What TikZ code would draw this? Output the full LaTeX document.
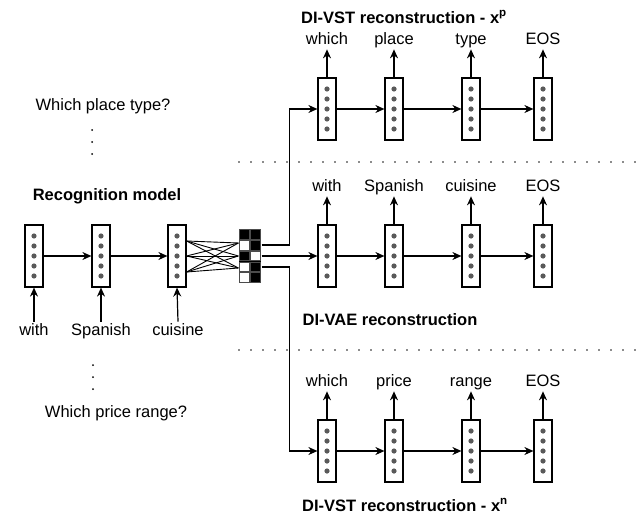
\documentclass[tikz,border=0pt]{standalone}
\usepackage{fontspec}
\setmainfont{Liberation Sans}
\usetikzlibrary{arrows.meta,positioning}

\begin{document}
\begin{tikzpicture}[x=1pt,y=-1pt,line width=1.2pt,
  cell/.style={draw,fill=white,minimum width=18pt,minimum height=62pt,inner sep=0pt,
    path picture={\foreach \d in {-2,...,2}
      \fill[black!65] ([yshift=\d*10pt]path picture bounding box.center) circle (2.6pt);}},
  word/.style={font=\fontsize{16.5}{18}\selectfont,text height=12pt,text depth=3.5pt,inner sep=1pt},
  heading/.style={font=\fontsize{16.5}{18}\selectfont\bfseries,inner sep=1pt},
  arr/.style={-{Stealth[length=9pt,width=8pt]}},
  bit/.style={draw=black!70,line width=0.8pt},
  sep/.style={black!45,line width=2pt,dash pattern=on 2pt off 10pt}]
  \useasboundingbox (0,0) rectangle (642,519);

  % recognition model
  \node[heading] (rtitle) at (107,196) {Recognition model};
  \node[cell] (r1) at (34,256) {};
  \node[cell] (r2) at (101,256) {};
  \node[cell] (r3) at (177,256) {};
  \node[word] (in1) at (34,331) {with};
  \node[word] (in2) at (101,331) {Spanish};
  \node[word] (in3) at (178,331) {cuisine};
  \draw[arr] (in1.north) -- (r1.south);
  \draw[arr] (in2.north) -- (r2.south);
  \draw[arr] (in3.north) -- (r3.south);
  \draw[arr] (r1) -- (r2);
  \draw[arr] (r2) -- (r3);

  % latent code
  \node[fill=black,minimum width=22pt,minimum height=54pt,inner sep=0pt] (z) at (250,256) {};
  \foreach \cx/\cy/\c in {244.5/234.4/black, 255.5/234.4/black,
                          244.5/245.2/white, 255.5/245.2/black,
                          244.5/256/black,   255.5/256/white,
                          244.5/266.8/white, 255.5/266.8/black,
                          244.5/277.6/white, 255.5/277.6/black}
    \filldraw[bit,fill=\c] (\cx-4.8,\cy-4.8) rectangle (\cx+4.8,\cy+4.8);
  \foreach \a in {15,0,-16}
    \foreach \b in {13,0,-12}
      \draw[line width=0.9pt] ([yshift=\a pt]r3.east) -- ([yshift=\b pt]z.west);

  % DI-VST reconstruction (x^p)
  \node[heading] (ptitle) at (404,17) {DI-VST reconstruction - x\textsuperscript{p}};
  \node[cell] (p1) at (327,109) {};
  \node[cell] (p2) at (394,109) {};
  \node[cell] (p3) at (471,109) {};
  \node[cell] (p4) at (543,109) {};
  \node[word] (pw1) at (327,40) {which};
  \node[word] (pw2) at (394,40) {place};
  \node[word] (pw3) at (471,40) {type};
  \node[word] (pw4) at (543,40) {EOS};

  % DI-VAE reconstruction
  \node[heading] (vtitle) at (390,320) {DI-VAE reconstruction};
  \node[cell] (v1) at (327,256) {};
  \node[cell] (v2) at (394,256) {};
  \node[cell] (v3) at (471,256) {};
  \node[cell] (v4) at (543,256) {};
  \node[word] (vw1) at (327,187) {with};
  \node[word] (vw2) at (394,187) {Spanish};
  \node[word] (vw3) at (471,187) {cuisine};
  \node[word] (vw4) at (543,187) {EOS};

  % DI-VST reconstruction (x^n)
  \node[heading] (ntitle) at (405,505) {DI-VST reconstruction - x\textsuperscript{n}};
  \node[cell] (n1) at (327,451) {};
  \node[cell] (n2) at (394,451) {};
  \node[cell] (n3) at (471,451) {};
  \node[cell] (n4) at (543,451) {};
  \node[word] (nw1) at (327,382) {which};
  \node[word] (nw2) at (394,382) {price};
  \node[word] (nw3) at (471,382) {range};
  \node[word] (nw4) at (543,382) {EOS};

  \foreach \r in {p,v,n} {
    \draw[arr] (\r1) -- (\r2);
    \draw[arr] (\r2) -- (\r3);
    \draw[arr] (\r3) -- (\r4);
    \foreach \i in {1,...,4}
      \draw[arr] (\r\i.north) -- (\r w\i.south);
  }

  % from the code to the decoders
  \draw[arr] ([yshift=11pt]z.east) -- ++(28,0) |- (p1.west);
  \draw[arr] (z.east) -- (v1.west);
  \draw[arr] ([yshift=-11pt]z.east) -- ++(28,0) |- (n1.west);

  % questions
  \node[word] (qp) at (103,106) {Which place type?};
  \node[word] (qn) at (116,413) {Which price range?};
  \foreach \y in {130,142,154} \fill (92,\y) circle (1pt);
  \foreach \y in {365,377,389} \fill (93,\y) circle (1pt);

  % separators
  \coordinate (s1a) at (238,162);
  \coordinate (s1b) at (642,162);
  \coordinate (s2a) at (238,350);
  \coordinate (s2b) at (642,350);
  \draw[sep] (s1a) -- (s1b);
  \draw[sep] (s2a) -- (s2b);
\end{tikzpicture}
\end{document}
